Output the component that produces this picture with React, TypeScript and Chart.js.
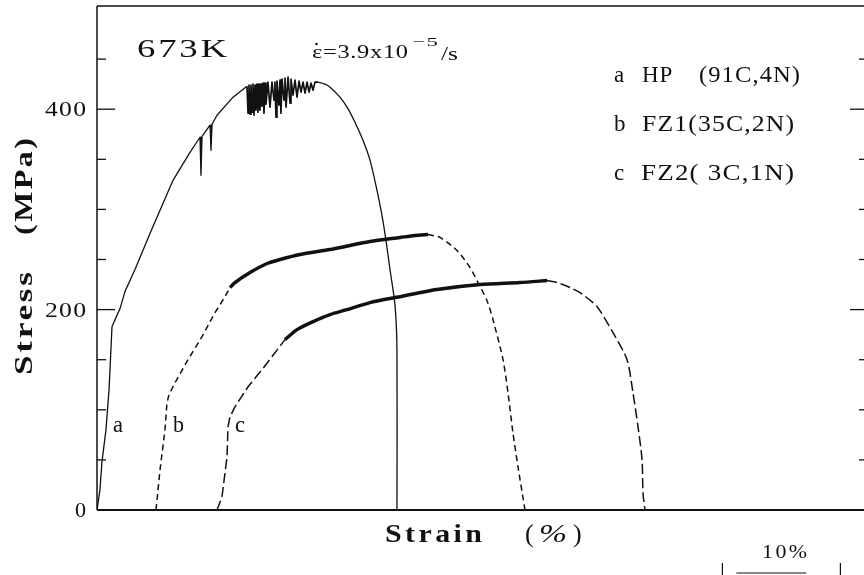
import React, { useEffect, useRef } from 'react';
import { Chart, registerables } from 'chart.js';

Chart.register(...registerables);

// ---- axis settings ----
const strainMin = 0;
const strainMax = 65; // %
const stressMin = 0;
const stressMax = 503; // MPa
const yTickValues = [50, 100, 150, 200, 250, 300, 350, 400, 450];
const yLabelValues = [0, 200, 400];
const scaleBar = [53, 63]; // a 10 % strain bar
const scaleBarLabel = '10%';

// ---- curve a : HP (91C,4N), solid ----
const hpRise: [number, number][] = [
  [0, 0], [0.25, 20], [0.42, 48], [0.76, 80], [1.02, 120], [1.27, 183],
  [1.53, 190], [1.95, 201], [2.37, 218], [3.22, 240], [4.49, 276], [6.44, 329],
  [7.88, 357], [8.73, 372], [8.81, 334], [8.9, 373], [9.58, 384], [9.66, 359],
  [9.75, 385], [10.17, 394], [11.53, 412], [12.71, 423],
];
const hpSerrated: [number, number][] = [
  [12.71, 423], [12.8, 396], [12.88, 424], [12.97, 395], [13.05, 424], [13.14, 397],
  [13.22, 425], [13.31, 394], [13.39, 424], [13.47, 399], [13.56, 425], [13.64, 397],
  [13.73, 425], [13.81, 399], [13.9, 425], [13.98, 403], [14.07, 426], [14.15, 396],
  [14.24, 426], [14.32, 405], [14.49, 427], [14.66, 402], [14.83, 427], [15.0, 409],
  [15.08, 427], [15.17, 392], [15.25, 428], [15.42, 404], [15.51, 429], [15.59, 396],
  [15.68, 430], [15.85, 409], [15.93, 431], [16.02, 402], [16.19, 432], [16.36, 406],
  [16.44, 430], [16.61, 414], [16.78, 429], [16.95, 412], [17.12, 428], [17.29, 417],
  [17.46, 427], [17.63, 416], [17.8, 427], [17.97, 417], [18.14, 426], [18.31, 419],
  [18.47, 427], [18.73, 427],
];
const hpFall: [number, number][] = [
  [18.73, 427], [19.32, 425], [19.75, 422], [20.59, 412], [21.19, 402], [21.86, 387],
  [22.54, 369], [23.14, 349], [23.73, 319], [24.15, 294], [24.49, 269], [24.83, 240],
  [25.25, 205], [25.42, 160], [25.42, 0],
];

// ---- curve b : FZ1 (35C,2N), dashed ----
const fz1Rise: [number, number][] = [
  [5.0, 0], [5.34, 40], [5.76, 80], [5.93, 107], [6.1, 115], [6.61, 127],
  [7.71, 150], [8.9, 173], [10.0, 197], [10.85, 213], [11.27, 222],
];
const fz1Band: [number, number][] = [
  [11.27, 222], [11.69, 227], [12.97, 237], [14.41, 246], [15.51, 250], [17.2, 255],
  [19.75, 260], [21.44, 264], [23.14, 268], [25.68, 272], [26.95, 274], [28.05, 275],
];
const fz1Fall: [number, number][] = [
  [28.05, 275], [29.07, 272], [30.51, 259], [31.61, 242], [32.29, 227], [33.05, 209],
  [33.56, 190], [34.41, 150], [34.83, 117], [35.25, 77], [35.68, 43], [36.27, 0],
];

// ---- curve c : FZ2 (3C,1N), long dashes ----
const fz2Rise: [number, number][] = [
  [10.17, 0], [10.59, 13], [11.02, 53], [11.1, 83], [11.27, 93], [11.69, 103],
  [12.8, 123], [13.98, 140], [15.08, 157], [15.93, 170],
];
const fz2Band: [number, number][] = [
  [15.93, 170], [16.95, 180], [18.31, 188], [19.75, 195], [21.19, 200], [23.14, 207],
  [25.25, 212], [28.81, 220], [32.46, 225], [35.85, 227], [38.14, 229],
];
const fz2Fall: [number, number][] = [
  [38.14, 229], [38.98, 227], [40.08, 222], [40.93, 217], [42.37, 203], [43.73, 177],
  [44.92, 150], [45.42, 117], [45.85, 83], [46.19, 50], [46.27, 17], [46.44, 0],
];

const legendLetters = ['a', 'b', 'c'];
const legendNames = ['HP', 'FZ1(35C,2N)', 'FZ2( 3C,1N)'];
const hpComposition = '(91C,4N)';
const tempLabel = '673K';

const INK = '#111';
const SERIF = '"Liberation Serif", "DejaVu Serif", serif';

// draws text with letter spacing `ls`, horizontally stretched to `width` if given
function drawText(
  ctx: CanvasRenderingContext2D,
  s: string,
  x: number,
  y: number,
  font: string,
  opt: { width?: number; ls?: number; align?: 'left' | 'right' | 'center' } = {}
) {
  ctx.save();
  ctx.font = font;
  (ctx as any).letterSpacing = '0px';
  const n = Array.from(s).length;
  const ls = opt.ls ?? 0;
  const w0 = ctx.measureText(s).width + ls * (n - 1);
  const sx = opt.width !== undefined ? opt.width / w0 : 1;
  const w = w0 * sx;
  (ctx as any).letterSpacing = ls + 'px';
  ctx.textAlign = 'left';
  ctx.textBaseline = 'alphabetic';
  const align = opt.align ?? 'left';
  const x0 = align === 'left' ? x : align === 'center' ? x - w / 2 : x - w;
  ctx.translate(x0, y);
  ctx.scale(sx, 1);
  ctx.fillText(s, 0, 0);
  ctx.restore();
}

const decorPlugin = {
  id: 'decor',
  afterDraw(chart: any) {
    const { ctx, chartArea: a, scales } = chart;
    const xs = scales.x;
    const ys = scales.y;
    ctx.save();
    ctx.strokeStyle = INK;
    ctx.fillStyle = INK;
    const line = (x1: number, y1: number, x2: number, y2: number) => {
      ctx.beginPath();
      ctx.moveTo(x1, y1);
      ctx.lineTo(x2, y2);
      ctx.stroke();
    };
    // frame
    ctx.lineWidth = 1.5;
    line(a.left, a.top, a.right + 10, a.top);
    line(a.left, a.top, a.left, a.bottom);
    ctx.lineWidth = 2;
    line(a.left, a.bottom, a.right + 10, a.bottom);
    // inward ticks on left and (cropped) right axes
    ctx.lineWidth = 1.3;
    for (const v of yTickValues) {
      const py = ys.getPixelForValue(v);
      const major = yLabelValues.includes(v);
      line(a.left, py, a.left + (major ? 18 : 9), py);
      line(a.right + 4, py, a.right + 4 - (major ? 18 : 9), py);
    }
    // y tick labels
    for (const v of yLabelValues) {
      const py = ys.getPixelForValue(v);
      const s = String(v);
      drawText(ctx, s, a.left - 11, py + 7, `21px ${SERIF}`, {
        width: s.length > 1 ? 41 : 11,
        ls: 1,
        align: 'right',
      });
    }
    // y title (rotated)
    ctx.save();
    ctx.translate(32, 375);
    ctx.rotate(-Math.PI / 2);
    drawText(ctx, 'Stress', 0, 0, `bold 26px ${SERIF}`, { width: 103, ls: 2 });
    drawText(ctx, '(MPa)', 140, 0, `bold 26px ${SERIF}`, { width: 97, ls: 2 });
    ctx.restore();
    // x title
    drawText(ctx, 'Strain', 385, 542, `bold 26px ${SERIF}`, { width: 97, ls: 3 });
    drawText(ctx, '(', 525, 542, `26px ${SERIF}`);
    drawText(ctx, '%', 539, 542, `italic 26px ${SERIF}`, { width: 28 });
    drawText(ctx, ')', 573, 542, `26px ${SERIF}`);
    // temperature & strain rate
    drawText(ctx, tempLabel, 137, 57, `26px ${SERIF}`, { width: 90, ls: 2 });
    drawText(ctx, '\u03B5=3.9x10', 312, 58, `18px ${SERIF}`, { width: 96, ls: 0.5 });
    ctx.beginPath();
    ctx.arc(316.5, 44, 1.3, 0, Math.PI * 2);
    ctx.fill();
    drawText(ctx, '\u22125', 412, 46, `13px ${SERIF}`, { width: 26, ls: 1 });
    drawText(ctx, '/s', 441, 60, `18px ${SERIF}`, { width: 17 });
    // legend
    const baseY = [82, 131, 180];
    legendLetters.forEach((l, i) => {
      drawText(ctx, l, 614, baseY[i], `23px ${SERIF}`);
    });
    drawText(ctx, legendNames[0], 642, baseY[0], `23px ${SERIF}`, { ls: 1 });
    drawText(ctx, hpComposition, 699, baseY[0], `23px ${SERIF}`, { width: 101, ls: 1 });
    drawText(ctx, legendNames[1], 642, baseY[1], `23px ${SERIF}`, { width: 152, ls: 1 });
    drawText(ctx, legendNames[2], 641, baseY[2], `23px ${SERIF}`, { width: 153, ls: 1 });
    // curve labels
    drawText(ctx, 'a', 113, 432, `24px ${SERIF}`, { width: 10 });
    drawText(ctx, 'b', 173, 432, `24px ${SERIF}`, { width: 11 });
    drawText(ctx, 'c', 235, 432, `24px ${SERIF}`, { width: 10 });
    // scale bar
    const bx1 = xs.getPixelForValue(scaleBar[0]);
    const bx2 = xs.getPixelForValue(scaleBar[1]);
    ctx.lineWidth = 1.2;
    line(bx1, 563, bx1, 576);
    line(bx2, 563, bx2, 576);
    ctx.lineWidth = 1;
    line(bx1 + 14, 573, bx2 - 34, 573);
    drawText(ctx, scaleBarLabel, 762, 558, `18px ${SERIF}`, { width: 45, ls: 2 });
    ctx.restore();
  },
};

function ds(pts: [number, number][], width: number, dash: number[], tension = 0) {
  return {
    data: pts.map(([x, y]) => ({ x, y })),
    showLine: true,
    borderColor: INK,
    backgroundColor: INK,
    borderWidth: width,
    borderDash: dash,
    pointRadius: 0,
    pointHoverRadius: 0,
    fill: false,
    tension,
    borderJoinStyle: 'round' as const,
  };
}

export default function App() {
  const ref = useRef<HTMLCanvasElement>(null);
  useEffect(() => {
    const chart = new Chart(ref.current!, {
      type: 'scatter',
      data: {
        datasets: [
          ds(hpRise, 1.3, []),
          ds(hpSerrated, 1.7, []),
          ds(hpFall, 1.3, [], 0.25),
          ds(fz1Rise, 1.5, [6, 4]),
          ds(fz1Band, 3.5, [], 0.25),
          ds(fz1Fall, 1.5, [6, 4], 0.25),
          ds(fz2Rise, 1.5, [10, 4]),
          ds(fz2Band, 3.5, [], 0.25),
          ds(fz2Fall, 1.5, [10, 4], 0.25),
        ] as any,
      },
      options: {
        responsive: false,
        maintainAspectRatio: false,
        animation: false,
        layout: { padding: { top: 6, left: 0, right: 0, bottom: 0 } },
        plugins: { legend: { display: false }, tooltip: { enabled: false } },
        scales: {
          x: {
            type: 'linear',
            min: strainMin,
            max: strainMax,
            ticks: { display: false },
            grid: { display: false, drawTicks: false },
            border: { display: false },
            afterFit: (s: any) => {
              s.height = 65;
            },
          },
          y: {
            type: 'linear',
            min: stressMin,
            max: stressMax,
            ticks: { display: false },
            grid: { display: false, drawTicks: false },
            border: { display: false },
            afterFit: (s: any) => {
              s.width = 97;
            },
          },
        },
      },
      plugins: [decorPlugin],
    });
    return () => chart.destroy();
  }, []);
  return (
    <div style={{ position: 'fixed', left: 0, top: 0, width: 864, height: 575, background: '#fff' }}>
      <canvas ref={ref} width={864} height={575} style={{ display: 'block', width: 864, height: 575 }} />
    </div>
  );
}
